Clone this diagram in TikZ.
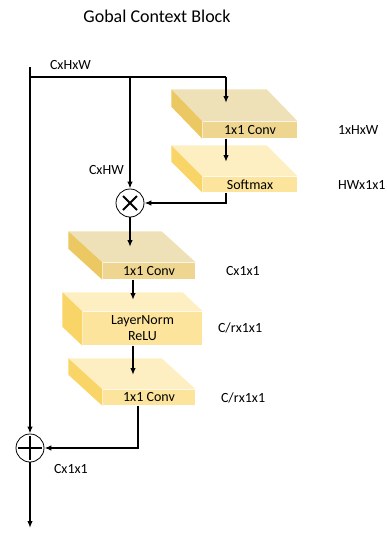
\documentclass[tikz,border=0pt]{standalone}
\usepackage{fontspec}
\setmainfont{Carlito}
\usetikzlibrary{arrows.meta,calc}

\definecolor{mutedtop}{HTML}{EFE1B7}
\definecolor{mutedfront}{HTML}{EED690}
\definecolor{mutedside}{HTML}{EBC862}
\definecolor{brighttop}{HTML}{FEEFC2}
\definecolor{brightfront}{HTML}{FCE49C}
\definecolor{brightside}{HTML}{F9D466}

% top and left faces of a slab: node, depth x, depth y, top colour, side colour
\newcommand{\slabfaces}[5]{%
  \fill[#4] (#1.north west) -- ([shift={(-#2,-#3)}]#1.north west)
    -- ([shift={(-#2,-#3)}]#1.north east) -- (#1.north east) -- cycle;
  \fill[#5] (#1.north west) -- ([shift={(-#2,-#3)}]#1.north west)
    -- ([shift={(-#2,-#3)}]#1.south west) -- (#1.south west) -- cycle;
}

\begin{document}
\begin{tikzpicture}[x=1pt, y=-1pt, >={Latex[length=7pt,width=5.5pt]}, line width=1.4pt,
  every node/.style={font=\fontsize{14}{16}\selectfont},
  slab/.style={rectangle, inner sep=0pt, align=center},
  op/.style={circle, draw, line width=0.8pt, minimum size=28pt, inner sep=0pt, fill=white}]
  \useasboundingbox (0,0) rectangle (386,533);

  \node (title) at (157,16) {\fontsize{18}{21}\selectfont Gobal Context Block};

  % slabs
  \node[slab, fill=mutedfront, minimum width=94pt, minimum height=16pt] (conv1) at (250,130) {1x1 Conv};
  \slabfaces{conv1}{31}{32}{mutedtop}{mutedside}
  \node[slab, fill=brightfront, minimum width=94pt, minimum height=15pt] (softmax) at (250,184.5) {Softmax};
  \slabfaces{softmax}{31}{31}{brighttop}{brightside}
  \node[slab, fill=mutedfront, minimum width=92pt, minimum height=16pt] (conv3) at (149,271) {1x1 Conv};
  \slabfaces{conv3}{34}{31}{mutedtop}{mutedside}
  \node[slab, fill=brightfront, minimum width=119pt, minimum height=33pt] (norm) at (142.5,328.5) {LayerNorm\\ReLU};
  \slabfaces{norm}{20}{19}{brighttop}{brightside}
  \node[slab, fill=brightfront, minimum width=92pt, minimum height=15pt] (conv5) at (149,397.5) {1x1 Conv};
  \slabfaces{conv5}{34}{31}{brighttop}{brightside}

  % operations
  \node[op] (mul) at (130,203) {};
  \draw[line width=1.9pt] ([shift={(-7,-7)}]mul.center) -- ([shift={(7,7)}]mul.center);
  \draw[line width=1.9pt] ([shift={(-7,7)}]mul.center) -- ([shift={(7,-7)}]mul.center);
  \node[op] (add) at (30,448) {};
  \draw[line width=2.4pt] ([xshift=-12pt]add.center) -- ([xshift=12pt]add.center);
  \draw[line width=2.4pt] ([yshift=-12pt]add.center) -- ([yshift=12pt]add.center);

  % sizes
  \node[anchor=west] (dimin) at (46,65) {CxHxW};
  \node[anchor=west] (dimhw) at (85,170) {CxHW};
  \node[anchor=west] (dimattn) at (334,130) {1xHxW};
  \node[anchor=west] (dimsoft) at (334,185) {HWx1x1};
  \node[anchor=west] (dimctx) at (222,271) {Cx1x1};
  \node[anchor=west] (dimnorm) at (214,328) {C/rx1x1};
  \node[anchor=west] (dimtrans) at (217,398) {C/rx1x1};
  \node[anchor=west] (dimout) at (50,469) {Cx1x1};

  % connectors
  \coordinate (src) at (30,67);
  \coordinate (dst) at (30,528);
  \coordinate (split1) at (130,77);
  \coordinate (split2) at (226,77);
  \coordinate (conv1in) at (226,103);
  \coordinate (smin) at (226,162);
  \coordinate (conv3in) at (130,247);
  \coordinate (normin) at (133,300);
  \coordinate (conv5in) at (133,375);

  \draw (src |- split1) -- (split2);
  \draw[->] (src) -- (add);
  \draw[->] (add) -- (dst);
  \draw[->] (split1) -- (mul);
  \draw[->] (split2) -- (conv1in);
  \draw[->] (conv1in |- conv1.south) -- (smin);
  \draw[->] (smin |- softmax.south) |- (mul);
  \draw[->] (mul) -- (conv3in);
  \draw[->] (normin |- conv3.south) -- (normin);
  \draw[->] (conv5in |- norm.south) -- (conv5in);
  \draw[->] ([xshift=-11pt]conv5.south) |- (add);
\end{tikzpicture}
\end{document}
